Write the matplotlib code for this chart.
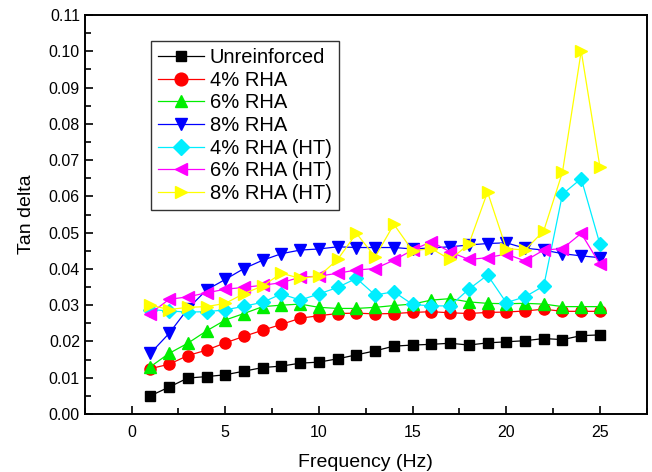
import matplotlib
matplotlib.use("Agg")
import matplotlib.pyplot as plt
from matplotlib.ticker import MultipleLocator

plt.rcParams['font.family'] = ['Liberation Sans', 'DejaVu Sans']

# frequency (Hz)
freq = list(range(1, 26))

# tan delta readings
unreinforced = [0.0050, 0.0074, 0.0099, 0.0103, 0.0108, 0.0118, 0.0128, 0.0132, 0.0140, 0.0143,
                0.0152, 0.0163, 0.0174, 0.0187, 0.0190, 0.0192, 0.0195, 0.0190, 0.0196, 0.0199,
                0.0202, 0.0208, 0.0205, 0.0216, 0.0218]
rha4 = [0.0125, 0.0137, 0.0161, 0.0176, 0.0196, 0.0214, 0.0231, 0.0247, 0.0264, 0.0271,
        0.0277, 0.0278, 0.0276, 0.0277, 0.0280, 0.0282, 0.0279, 0.0277, 0.0280, 0.0281,
        0.0284, 0.0289, 0.0283, 0.0283, 0.0283]
rha6 = [0.0130, 0.0167, 0.0195, 0.0229, 0.0259, 0.0277, 0.0296, 0.0300, 0.0303, 0.0294,
        0.0291, 0.0291, 0.0294, 0.0299, 0.0303, 0.0314, 0.0318, 0.0309, 0.0305, 0.0304,
        0.0305, 0.0303, 0.0296, 0.0296, 0.0296]
rha8 = [0.0167, 0.0222, 0.0290, 0.0342, 0.0371, 0.0401, 0.0424, 0.0442, 0.0452, 0.0455,
        0.0461, 0.0459, 0.0459, 0.0459, 0.0455, 0.0458, 0.0461, 0.0466, 0.0470, 0.0472,
        0.0457, 0.0452, 0.0442, 0.0436, 0.0431]
rha4_ht = [0.0288, 0.0284, 0.0281, 0.0282, 0.0287, 0.0297, 0.0308, 0.0331, 0.0314, 0.0331,
           0.0349, 0.0374, 0.0328, 0.0337, 0.0302, 0.0298, 0.0298, 0.0344, 0.0383, 0.0307,
           0.0323, 0.0353, 0.0606, 0.0649, 0.0468]
rha6_ht = [0.0277, 0.0316, 0.0323, 0.0334, 0.0344, 0.0349, 0.0355, 0.0362, 0.0377, 0.0380,
           0.0388, 0.0397, 0.0401, 0.0424, 0.0452, 0.0475, 0.0447, 0.0426, 0.0431, 0.0441,
           0.0422, 0.0452, 0.0456, 0.0498, 0.0413]
rha8_ht = [0.0300, 0.0288, 0.0294, 0.0296, 0.0305, 0.0332, 0.0353, 0.0388, 0.0374, 0.0380,
           0.0426, 0.0498, 0.0433, 0.0523, 0.0450, 0.0456, 0.0426, 0.0468, 0.0612, 0.0456,
           0.0452, 0.0505, 0.0667, 0.1001, 0.0681]

labels = ["Unreinforced", "4% RHA", "6% RHA", "8% RHA",
          "4% RHA (HT)", "6% RHA (HT)", "8% RHA (HT)"]
series = [unreinforced, rha4, rha6, rha8, rha4_ht, rha6_ht, rha8_ht]
colors = ["#000000", "#ff0000", "#00ee00", "#0000ff", "#00eeff", "#ff00ff", "#ffff00"]
markers = ["s", "o", "^", "v", "D", "<", ">"]
msizes = [6.5, 8, 8, 8, 7, 8, 8]

fig = plt.figure(figsize=(6.52, 4.72), dpi=100)
ax = fig.add_axes([0.130, 0.123, 0.862, 0.845])

for y, lab, c, m, ms in zip(series, labels, colors, markers, msizes):
    ax.plot(freq, y, color=c, lw=0.9, marker=m, ms=ms, mec=c, mfc=c, label=lab)

ax.set_xlim(-2.5, 27.5)
ax.set_ylim(0, 0.11)
ax.xaxis.set_major_locator(MultipleLocator(5))
ax.xaxis.set_minor_locator(MultipleLocator(2.5))
ax.yaxis.set_major_locator(MultipleLocator(0.01))
ax.yaxis.set_minor_locator(MultipleLocator(0.005))
ax.yaxis.set_major_formatter(matplotlib.ticker.FormatStrFormatter('%.2f'))
ax.tick_params(which='both', direction='in', top=False, right=False, labelsize=11.5, width=1.2)
ax.tick_params(which='major', length=6)
ax.tick_params(which='minor', length=4)
ax.tick_params(axis='x', pad=8)
for s in ax.spines.values():
    s.set_linewidth(1.4)

ax.set_xlabel("Frequency (Hz)", fontsize=14, labelpad=10)
ax.set_ylabel("Tan delta", fontsize=14, labelpad=10)

leg = ax.legend(loc='upper left', bbox_to_anchor=(0.117, 0.935), fontsize=14.5,
                numpoints=1, markerscale=1.15, handlelength=2.3, labelspacing=0.18,
                handletextpad=0.3, borderpad=0.35, fancybox=False, framealpha=1,
                edgecolor='#333333', borderaxespad=0)
leg.get_frame().set_linewidth(1.0)

fig.savefig("out.png", dpi=100)
